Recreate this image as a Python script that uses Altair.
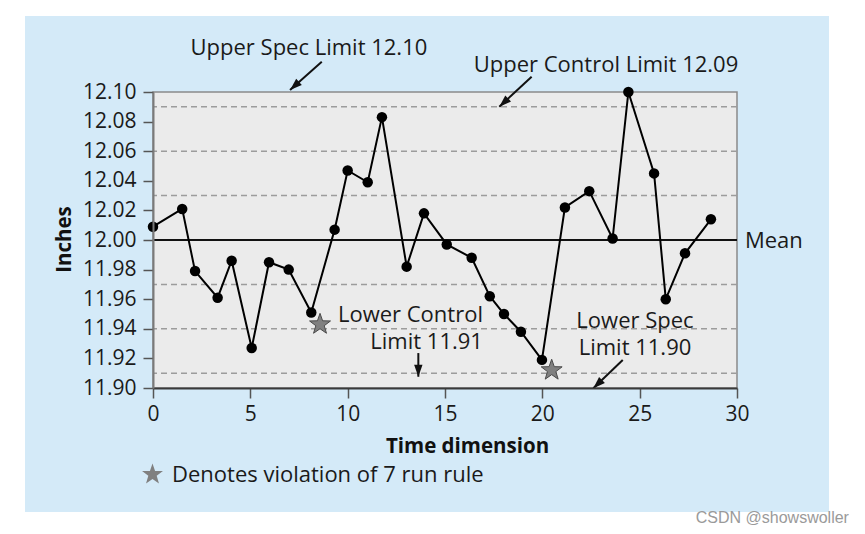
import math
import altair as alt
import pandas as pd

# ---------------- data ----------------
time_x = [0.0, 1.5, 2.16, 3.32, 4.04, 5.07, 5.96, 6.97, 8.13, 9.33,
          10.0, 11.03, 11.76, 13.03, 13.92, 15.09, 16.37, 17.30, 18.03, 18.90,
          19.98, 21.16, 22.41, 23.61, 24.42, 25.74, 26.34, 27.33, 28.66]
inches = [12.009, 12.021, 11.979, 11.961, 11.986, 11.927, 11.985, 11.980, 11.951, 12.007,
          12.047, 12.039, 12.083, 11.982, 12.018, 11.997, 11.988, 11.962, 11.950, 11.938,
          11.919, 12.022, 12.033, 12.001, 12.100, 12.045, 11.960, 11.991, 12.014]

violation_x = [8.58, 20.48]
violation_y = [11.943, 11.912]
violation_label = "Denotes violation of 7 run rule"

mean_value = 12.00
sigma_lines = [12.09, 12.06, 12.03, 11.97, 11.94, 11.91]

y_ticks = [11.90, 11.92, 11.94, 11.96, 11.98, 12.00, 12.02, 12.04, 12.06, 12.08, 12.10]
x_ticks = [0, 5, 10, 15, 20, 25, 30]

# annotations (text, x, y in data units); "\n" separates the lines of a block
center_texts = ["Upper Spec Limit 12.10", "Upper Control Limit 12.09", "Lower Spec\nLimit 11.90"]
center_x = [8.01, 23.27, 24.76]
center_y = [12.125, 12.1137, 11.9403]

right_texts = ["Lower Control\nLimit 11.91"]
right_x = [16.95]
right_y = [11.9444]

left_texts = ["Mean"]
left_x = [30.41]
left_y = [11.9944]

arrow_x1 = [8.67, 19.45, 13.63, 24.13]
arrow_y1 = [12.1205, 12.1103, 11.9236, 11.9189]
arrow_x2 = [7.04, 17.79, 13.63, 22.62]
arrow_y2 = [12.1014, 12.0901, 11.9076, 11.8998]

watermark = "CSDN @showswoller"

# ---------------- layout ----------------
W, H = 584, 296
FONT = "Open Sans"
XDOM = [0, 30]
YDOM = [11.90, 12.10]

xscale = alt.Scale(domain=XDOM, nice=False, zero=False)
yscale = alt.Scale(domain=YDOM, nice=False, zero=False)

x_axis = alt.Axis(values=x_ticks, format="d", grid=False, zindex=2,
                  labelFlush=False, labelOverlap=False,
                  domainColor="#3a3a3a", domainWidth=2,
                  tickColor="#555555", tickWidth=1.5, tickSize=10,
                  labelFontSize=21, labelColor="#1a1a1a", labelFont=FONT,
                  labelPadding=5,
                  titleFont=FONT, titleFontSize=20.5, titleFontWeight="bold",
                  titleColor="#111111", titleX=314, titleY=64,
                  titleBaseline="alphabetic", titleAlign="center")
y_axis = alt.Axis(values=y_ticks, format=".2f", grid=False, zindex=2,
                  labelFlush=False, labelOverlap=False,
                  domainColor="#7a7a7a", domainWidth=2,
                  tickColor="#555555", tickWidth=1.5, tickSize=10,
                  labelFontSize=21, labelColor="#1a1a1a", labelFont=FONT,
                  labelPadding=7,
                  titleFont=FONT, titleFontSize=20.5, titleFontWeight="bold",
                  titleColor="#111111", titleX=-83, titleY=147,
                  titleBaseline="alphabetic", titleAlign="center", titleAngle=270)

X = alt.X("x:Q", scale=xscale, title="Time dimension", axis=x_axis)
Y = alt.Y("y:Q", scale=yscale, title="Inches", axis=y_axis)

one = pd.DataFrame({"a": [0]})

panel = alt.Chart(one).mark_rect(color="#d4eaf8").encode(
    x=alt.value(-128), x2=alt.value(676), y=alt.value(-76), y2=alt.value(420))

bg_df = pd.DataFrame({"x": [XDOM[0]], "y": [YDOM[0]]})
plot_bg = alt.Chart(bg_df).mark_rect(fill="#ebebeb", stroke="#8a8a8a", strokeWidth=1.5).encode(
    x=X, x2=alt.datum(XDOM[1]), y=Y, y2=alt.datum(YDOM[1]))

dash_df = pd.DataFrame({"y": sigma_lines})
dashes = alt.Chart(dash_df).mark_rule(color="#9c9c9c", strokeWidth=1.5, strokeDash=[6, 4]).encode(y=Y)

mean_df = pd.DataFrame({"y": [mean_value]})
mean_rule = alt.Chart(mean_df).mark_rule(color="#111111", strokeWidth=2).encode(y=Y)

series = pd.DataFrame({"x": time_x, "y": inches})
line = alt.Chart(series).mark_line(color="#000000", strokeWidth=2).encode(x=X, y=Y)
dots = alt.Chart(series).mark_circle(color="#000000", size=110, opacity=1).encode(x=X, y=Y)

STAR = ("M0,-1L0.235,-0.324L0.951,-0.309L0.380,0.124L0.588,0.809L0,0.4"
        "L-0.588,0.809L-0.380,0.124L-0.951,-0.309L-0.235,-0.324Z")
viol = pd.DataFrame({"x": violation_x, "y": violation_y, "lab": [violation_label] * 2})
stars = alt.Chart(viol).mark_point(filled=True, fill="#808080", stroke="#4a4a4a",
                                   strokeWidth=1, opacity=1, size=484).encode(
    x=X, y=Y,
    shape=alt.Shape("lab:N", scale=alt.Scale(range=[STAR]),
                    legend=alt.Legend(orient="none", legendX=-12, legendY=371, title=None,
                                      labelFont=FONT, labelFontSize=22, labelColor="#1a1a1a",
                                      labelOffset=8, labelLimit=600, padding=0, symbolSize=484,
                                      symbolFillColor="#808080", symbolStrokeColor="#4a4a4a",
                                      symbolStrokeWidth=1, symbolType=STAR)))

def texts(t, xs, ys, align):
    df = pd.DataFrame({"t": t, "x": xs, "y": ys})
    return alt.Chart(df).mark_text(align=align, baseline="alphabetic", font=FONT,
                                   fontSize=22, lineBreak="\n", lineHeight=26.5,
                                   color="#1a1a1a").encode(x=X, y=Y, text="t:N")

t_center = texts(center_texts, center_x, center_y, "center")
t_right = texts(right_texts, right_x, right_y, "right")
t_left = texts(left_texts, left_x, left_y, "left")

px_per_x = W / (XDOM[1] - XDOM[0])
px_per_y = H / (YDOM[1] - YDOM[0])
angles = []
for a, b, c, d in zip(arrow_x1, arrow_y1, arrow_x2, arrow_y2):
    dx = (c - a) * px_per_x
    dy = -(d - b) * px_per_y
    angles.append(math.degrees(math.atan2(dx, -dy)) % 360)

arr_df = pd.DataFrame({"x": arrow_x1, "y": arrow_y1, "x2": arrow_x2, "y2": arrow_y2})
arrow_lines = alt.Chart(arr_df).mark_rule(color="#111111", strokeWidth=2).encode(
    x=X, y=Y, x2="x2:Q", y2="y2:Q")
HEAD = "M0,0L-0.7,2L0.7,2Z"
head_df = pd.DataFrame({"x": arrow_x2, "y": arrow_y2, "ang": angles})
arrow_heads = alt.Chart(head_df).mark_point(shape=HEAD, filled=True, color="#111111",
                                            opacity=1, size=144).encode(
    x=X, y=Y, angle=alt.Angle("ang:Q", scale=None))

wm_df = pd.DataFrame({"t": [watermark], "x": [35.75], "y": [11.8088]})
wm = alt.Chart(wm_df).mark_text(align="right", baseline="alphabetic", font="Liberation Sans",
                                fontSize=16, color="#9a9a9a").encode(x=X, y=Y, text="t:N")

chart = alt.layer(panel, plot_bg, dashes, mean_rule, line, dots, stars,
                  t_center, t_right, t_left, arrow_lines, arrow_heads, wm).properties(
    width=W, height=H,
    autosize=alt.AutoSizeParams(type="none"),
    padding={"left": 145, "top": 84, "right": 120, "bottom": 138},
    background="#ffffff",
).configure_view(stroke=None)

chart.save("out.html", embed_options={"renderer": "svg", "actions": False})
